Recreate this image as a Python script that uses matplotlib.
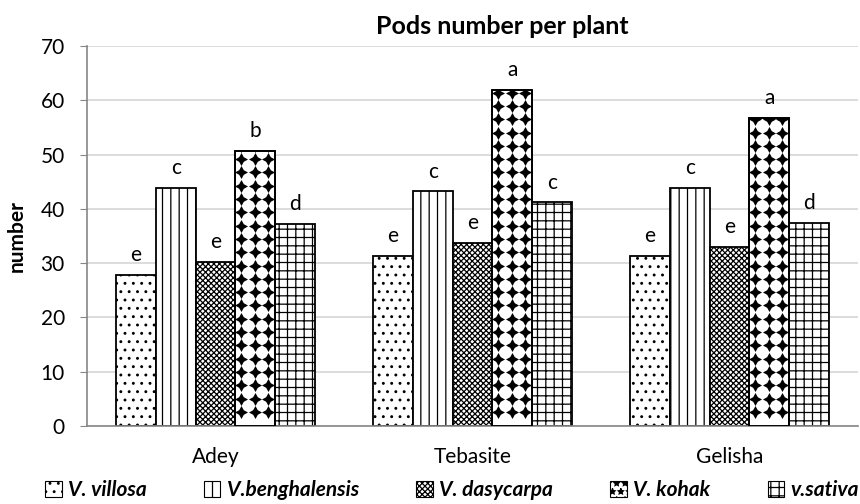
import numpy as np
import matplotlib.pyplot as plt
from matplotlib.patches import Patch

sites = ['Adey', 'Tebasite', 'Gelisha']
species = ['V. villosa', 'V.benghalensis', 'V. dasycarpa', 'V. kohak', 'v.sativa']
villosa = [27.8, 31.3, 31.4]
benghalensis = [43.9, 43.2, 43.9]
dasycarpa = [30.3, 33.8, 33.0]
kohak = [50.7, 61.9, 56.7]
sativa = [37.2, 41.2, 37.4]
letters = [['e', 'e', 'e'],
           ['c', 'c', 'c'],
           ['e', 'e', 'e'],
           ['b', 'a', 'a'],
           ['d', 'c', 'd']]

values = [villosa, benghalensis, dasycarpa, kohak, sativa]
hatches = ['..', '||', 'xxxxxx', None, '++']

plt.rcParams['font.family'] = ['Lato', 'DejaVu Sans']
plt.rcParams['hatch.linewidth'] = 0.9

fig = plt.figure(figsize=(8.6, 5.04), dpi=100)
ax = fig.add_axes([87 / 860, 1 - 426 / 504, 771 / 860, 380 / 504])

x = np.arange(len(sites))
w = 0.155
for i, (vals, h) in enumerate(zip(values, hatches)):
    pos = x + (i - 2) * w
    bars = ax.bar(pos, vals, w, color='white', edgecolor='black', hatch=h,
                  linewidth=1.3, zorder=2)
    if h is None:
        # black four-point stars pattern, clipped to each bar
        for r in bars:
            x0, bw, bh = r.get_x(), r.get_width(), r.get_height()
            cols = x0 + bw * np.array([0.13, 0.48, 0.83])
            rows = np.arange(2.6, bh + 2, 2.45)
            gx, gy = np.meshgrid(cols, rows)
            sc = ax.scatter(gx.ravel(), gy.ravel(), marker=(4, 1, 0), s=88,
                            color='black', linewidths=0, zorder=2.5)
            sc.set_clip_path(r)
        ax.bar(pos, vals, w, fill=False, edgecolor='black', linewidth=1.3, zorder=3)
    for xi, v, lab in zip(pos, vals, letters[i]):
        ax.annotate(lab, (xi, v), xytext=(0, 7), textcoords='offset points',
                    ha='center', va='bottom', fontsize=15)

ax.set_xlim(-0.5, 2.5)
ax.set_ylim(0, 70)
ax.set_yticks(range(0, 71, 10))
ax.set_xticks(x)
ax.set_xticklabels(sites, fontsize=15)
ax.tick_params(axis='x', length=0, pad=15)
ax.tick_params(axis='y', labelsize=15, length=5, color='#868686', pad=11)
ax.yaxis.grid(True, color='#d9d9d9', linewidth=1.3, zorder=0)
ax.set_axisbelow(True)
for s in ['top', 'right']:
    ax.spines[s].set_visible(False)
for s in ['left', 'bottom']:
    ax.spines[s].set_color('#868686')
    ax.spines[s].set_linewidth(1.2)

ax.set_ylabel('number', fontsize=15, fontweight='bold', labelpad=10)
fig.text(502 / 860, 1 - 27 / 504, 'Pods number per plant', ha='center', va='center',
         fontsize=18, fontweight='bold')

handles = [Patch(facecolor='white', edgecolor='black', hatch=h if h else '**', linewidth=0.8)
           for h in hatches]
leg = fig.legend(handles, species, loc='center', bbox_to_anchor=(452 / 860, 1 - 490 / 504),
                 ncol=5, frameon=False, handlelength=0.8, handleheight=0.8,
                 handletextpad=0.3, columnspacing=2.75,
                 prop={'size': 15, 'weight': 'bold', 'style': 'italic'})

fig.savefig('out.png', dpi=100)
